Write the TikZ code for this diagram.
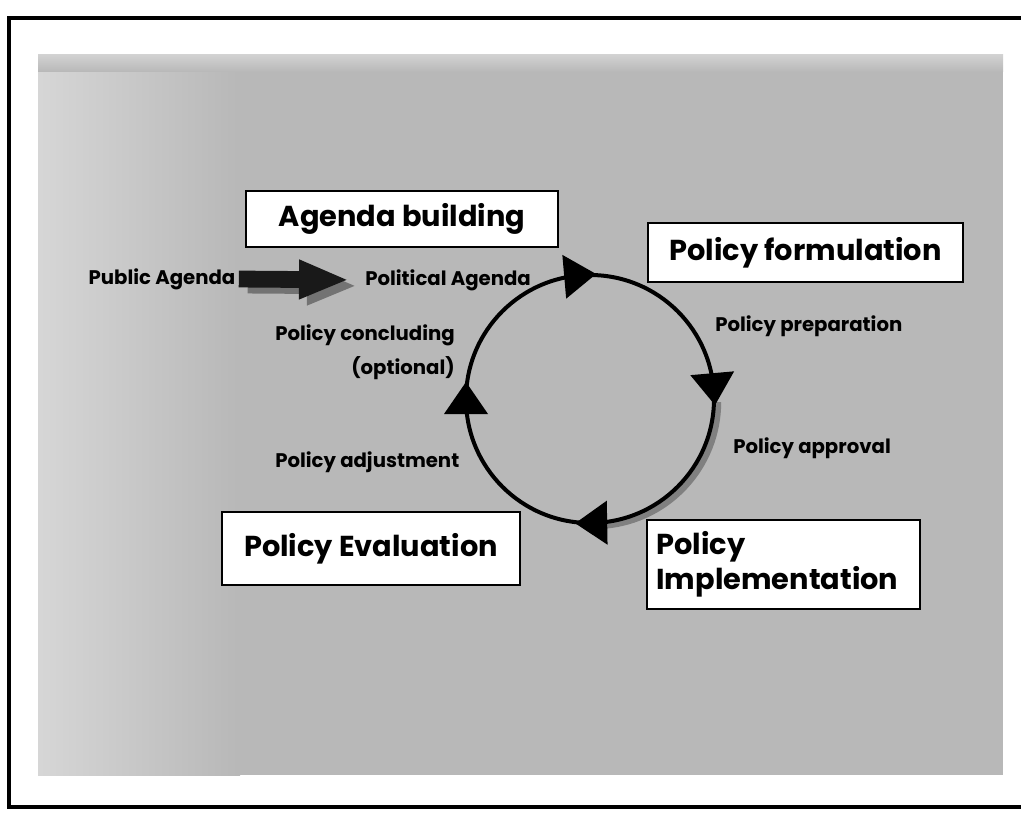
\documentclass[tikz,border=0pt]{standalone}
\usepackage{fontspec}
\setmainfont{Poppins}
\usetikzlibrary{arrows.meta}
\usetikzlibrary{calc}
\tikzset{
	stage/.style={draw=black, line width=0.8pt, fill=white, inner sep=0pt,
		font=\bfseries\fontsize{20.5}{25}\selectfont},
	steplabel/.style={inner sep=0pt, font=\bfseries\fontsize{14}{16}\selectfont},
}
\newcommand{\cyclehead}[1] % angle on the cycle in degrees
{
	% filled triangle, pointing clockwise along the cycle
	\begin{scope}[shift={(hub)}, rotate=#1]
		\fill (102,15) -- (146,15) -- (124,-17) -- cycle;
	\end{scope}
}

\begin{document}
\begin{tikzpicture}[x=0.025cm, y=0.025cm]
	% 1021 x 812 px, 1px = 0.25mm
	\useasboundingbox (0,0) rectangle (1021,812);
	% slide frame and background
	\draw[line width=0.09cm] (1030,794) -- (9,794) -- (9,5) -- (1030,5);
	\fill[black!28] (38,37) rectangle (1003,757);
	\shade[left color=black!16, right color=black!28] (38,37) rectangle (240,757);
	\shade[top color=black!18, bottom color=black!28] (38,740) rectangle (1003,757);
	
	% stages
	\node[stage, minimum width=7.8cm, minimum height=1.4cm] (agenda) at (402,593) {Agenda building};
	\node[stage, minimum width=7.875cm, minimum height=1.475cm] (formulation) at (805.5,559.5) {Policy formulation};
	\node[stage, minimum width=7.45cm, minimum height=1.825cm] (evaluation) at (371,263.5) {Policy Evaluation};
	\node[stage, minimum width=6.825cm, minimum height=2.225cm, text width=6.35cm, align=left] (implementation) at (783.5,247.5) {Policy\\Implementation};
	
	% steps
	\node[steplabel] (public) at (162,533) {Public Agenda};
	\node[steplabel, anchor=west] (political) at (365,532) {Political Agenda};
	\node[steplabel, anchor=west] (concluding) at (275,477) {Policy concluding};
	\node[steplabel] (optional) at (403,444) {(optional)};
	\node[steplabel, anchor=west] (adjustment) at (275,350) {Policy adjustment};
	\node[steplabel, anchor=west] (preparation) at (715,486) {Policy preparation};
	\node[steplabel, anchor=west] (approval) at (733,364) {Policy approval};
	
	% block arrow with its shadow
	\draw[black!55, line width=0.42cm, shorten <=0.2cm, shorten >=0.3cm,
		-{Triangle[length=1.25cm, width=0.9cm]}] ($(public.east)+(4,-6)$) -- ($(political.west)+(4,-6)$);
	\draw[black!90, line width=0.42cm, shorten <=0.08cm, shorten >=0.4cm,
		-{Triangle[length=1.25cm, width=0.9cm]}] (public.east) -- (political.west);
	
	% cycle with shadow on the lower right
	\coordinate (hub) at (590,413);
	\draw[black!50, line width=0.16cm] ($(hub)+(4,-3)+(124,0)$) arc[start angle=0, end angle=-85, radius=124];
	\draw[line width=0.1cm] (hub) circle (124);
	\cyclehead{95}
	\cyclehead{5}
	\cyclehead{-89}
	\cyclehead{180}
\end{tikzpicture}
\end{document}
